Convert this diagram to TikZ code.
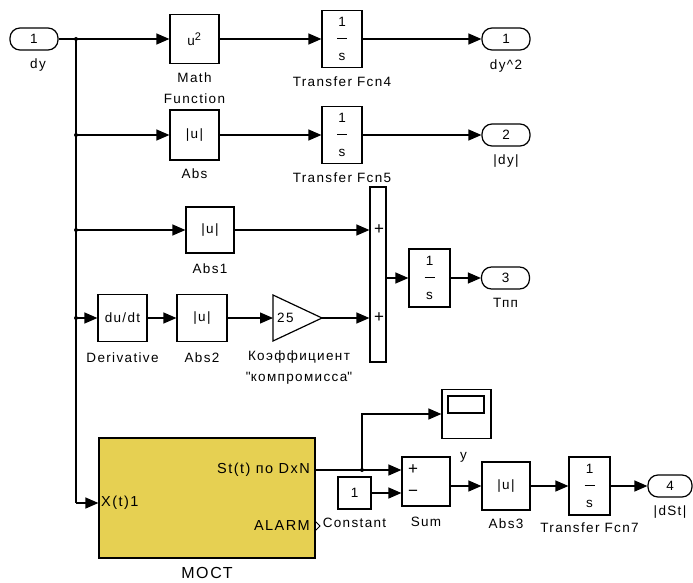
\documentclass[tikz,border=0pt]{standalone}
\usepackage{fontspec}
\setmainfont{Liberation Sans}[LetterSpace=10]
\usetikzlibrary{arrows.meta, positioning}
\definecolor{moctyellow}{RGB}{230,208,82}
\tikzstyle{block} = [rectangle, draw=black, line width=1.2pt, inner sep=0pt, align=center, font=\fontsize{13.5}{15}\selectfont]
\tikzstyle{port} = [rectangle, rounded corners=10pt, draw=black, line width=1.2pt, minimum width=48pt, minimum height=22pt, inner sep=0pt, font=\fontsize{13.5}{15}\selectfont]
\tikzstyle{lbl} = [inner sep=0pt, align=center, font=\fontsize{13.5}{21}\selectfont]
\tikzstyle{sign} = [inner sep=0pt, font=\fontsize{13.5}{15}\selectfont]
\tikzstyle{pm} = [inner sep=0pt, font=\fontsize{17}{18}\selectfont]
\tikzstyle{wire} = [line width=1.2pt]
\tikzstyle{arrow} = [line width=1.2pt, -{Triangle[length=13pt,width=11pt]}]
\newcommand{\oneovers}{1\\[1pt]\rule[3.5pt]{10pt}{1pt}\\[3pt]s}

\begin{document}
\begin{tikzpicture}[x=1pt, y=-1pt]
        \useasboundingbox (0,0) rectangle (693,583);

        % Nodes
        \node (in1) [port] at (34,39) {1};
        \node (in1-lbl) [lbl, below=8pt of in1, xshift=4pt] {dy};
        \node (mathfcn) [block, minimum width=49pt, minimum height=49pt] at (194.5,39) {u\textsuperscript{\fontsize{11}{12}\selectfont 2}};
        \node (mathfcn-lbl) [lbl, below=8pt of mathfcn] {Math\\Function};
        \node (tf4) [block, minimum width=40pt, minimum height=57pt] at (342,39) {\oneovers};
        \node (tf4-lbl) [lbl, below=8pt of tf4] {Transfer Fcn4};
        \node (out1) [port] at (506,39) {1};
        \node (out1-lbl) [lbl, below=9pt of out1] {dy\textasciicircum 2};

        \node (abs) [block, minimum width=49pt, minimum height=50pt] at (194.5,135) {|u|};
        \node (abs-lbl) [lbl, below=8pt of abs] {Abs};
        \node (tf5) [block, minimum width=40pt, minimum height=57pt] at (342,135) {\oneovers};
        \node (tf5-lbl) [lbl, below=8pt of tf5] {Transfer Fcn5};
        \node (out2) [port] at (506,135) {2};
        \node (out2-lbl) [lbl, below=8pt of out2] {|dy|};

        \node (abs1) [block, minimum width=48pt, minimum height=46pt] at (210,230) {|u|};
        \node (abs1-lbl) [lbl, below=10pt of abs1] {Abs1};
        \node (sum1) [block, minimum width=16pt, minimum height=175pt] at (378,274.5) {};
        \node (sum1-a) [pm] at (379,230) {+};
        \node (sum1-b) [pm] at (379,318) {+};
        \node (int1) [block, minimum width=41pt, minimum height=58pt] at (429.5,278) {\oneovers};
        \node (out3) [port] at (505.5,278) {3};
        \node (out3-lbl) [lbl, below=8pt of out3] {Тпп};

        \node (der) [block, minimum width=49pt, minimum height=47pt] at (122.5,318) {du/dt};
        \node (der-lbl) [lbl, below=10pt of der] {Derivative};
        \node (abs2) [block, minimum width=50pt, minimum height=47pt] at (202,318) {|u|};
        \node (abs2-lbl) [lbl, below=10pt of abs2] {Abs2};
        \coordinate (gin) at (273,318);
        \coordinate (gout) at (322,318);
        \coordinate (gbot) at (299,342);
        \draw [wire] (273,295) -- (gout) -- (273,341) -- cycle;
        \node (gain) [sign, anchor=west] at (277,318) {25};
        \node (gain-lbl) [lbl, below=9pt of gbot] {Коэффициент\\\textquotedbl компромисса\textquotedbl};

        \node (moct) [block, fill=moctyellow, minimum width=216pt, minimum height=120pt] at (207,498) {};
        \node (moct-lbl) [lbl, below=9pt of moct, font=\fontsize{16}{18}\selectfont] {МОСТ};
        \node (moct-x) [sign, anchor=west, font=\fontsize{14.5}{16}\selectfont] at (101,503) {X(t)1};
        \node (moct-st) [sign, anchor=east, font=\fontsize{14.5}{16}\selectfont] at (310,470) {St(t) по DxN};
        \node (moct-al) [sign, anchor=east, font=\fontsize{14.5}{16}\selectfont] at (310,526) {ALARM};
        \draw [wire, line width=0.8pt] (315,521) -- (320,526) -- (315,531);

        \node (scope) [block, minimum width=49pt, minimum height=49pt] at (466.5,414) {};
        \draw [wire] (448,396) rectangle (484,413);
        \node (scope-lbl) [lbl, below=13pt of scope, xshift=-3pt] {y};
        \node (const) [block, minimum width=33pt, minimum height=32pt] at (354.5,493) {1};
        \node (const-lbl) [lbl, below=8pt of const] {Constant};
        \node (sum2) [block, minimum width=48pt, minimum height=49pt] at (426,481.5) {};
        \node (sum2-a) [pm] at (413,470) {+};
        \node (sum2-b) [pm] at (413,493) {−};
        \node (sum2-lbl) [lbl, below=10pt of sum2] {Sum};
        \node (abs3) [block, minimum width=48pt, minimum height=48pt] at (506,486) {|u|};
        \node (abs3-lbl) [lbl, below=8pt of abs3] {Abs3};
        \node (tf7) [block, minimum width=41pt, minimum height=58pt] at (589.5,486) {\oneovers};
        \node (tf7-lbl) [lbl, below=7pt of tf7] {Transfer Fcn7};
        \node (out4) [port, minimum width=44pt] at (670,486) {4};
        \node (out4-lbl) [lbl, below=8pt of out4] {|dSt|};

        % Arrows
        \coordinate (j1) at (76,39);
        \coordinate (j2) at (76,135);
        \coordinate (j3) at (76,230);
        \coordinate (j4) at (76,318);
        \coordinate (jx) at (76,503);
        \coordinate (st) at (315,470);
        \coordinate (j5) at (362,470);
        \draw [wire] (j1) -- (jx);
        \draw [arrow] (in1) -- (mathfcn);
        \draw [arrow] (mathfcn) -- (tf4);
        \draw [arrow] (tf4) -- (out1);
        \draw [arrow] (j2) -- (abs);
        \draw [arrow] (abs) -- (tf5);
        \draw [arrow] (tf5) -- (out2);
        \draw [arrow] (j3) -- (abs1);
        \draw [arrow] (abs1) -- (sum1.west |- abs1);
        \draw [arrow] (j4) -- (der);
        \draw [arrow] (der) -- (abs2);
        \draw [arrow] (abs2) -- (gin);
        \draw [arrow] (gout) -- (sum1.west |- gout);
        \draw [arrow] (sum1.east |- int1) -- (int1);
        \draw [arrow] (int1) -- (out3);
        \draw [arrow] (jx) -- (moct.west |- jx);
        \draw [wire] (st) -- (j5);
        \draw [arrow] (j5) -- (sum2.west |- j5);
        \draw [arrow] (j5) |- (scope);
        \draw [arrow] (const) -- (sum2.west |- const);
        \draw [arrow] (sum2.east |- abs3) -- (abs3);
        \draw [arrow] (abs3) -- (tf7);
        \draw [arrow] (tf7) -- (out4);
        \foreach \j in {j1,j2,j3,j4,j5}
            \fill (\j) circle (2pt);
    \end{tikzpicture}
\end{document}
